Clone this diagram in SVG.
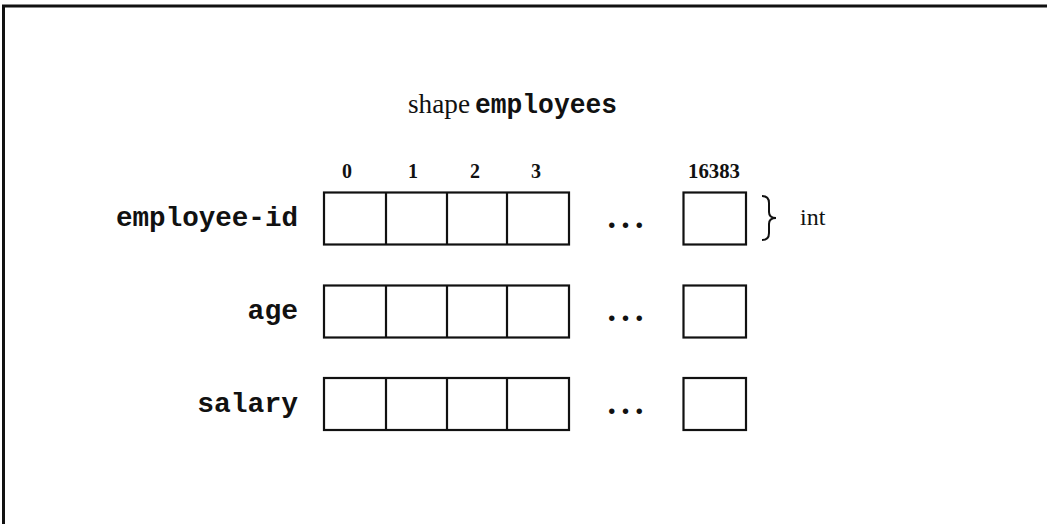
<svg xmlns="http://www.w3.org/2000/svg" width="1047" height="524" viewBox="0 0 1047 524">
<style>
.cell{fill:#fff;stroke:#111;stroke-width:2.2}
.div{stroke:#111;stroke-width:2.2}
.mono{font-family:"Liberation Mono","Courier New",monospace;font-weight:bold;fill:#111}
.serif{font-family:"Liberation Serif","Times New Roman",serif;fill:#111}
.idx{font-family:"Liberation Serif","Times New Roman",serif;font-weight:bold;font-size:20px;fill:#111;text-anchor:middle}
.dots{font-family:"Liberation Serif","Times New Roman",serif;font-weight:bold;font-size:34px;fill:#111;letter-spacing:5.2px}
</style>
<rect width="1047" height="524" fill="#fff"/>
<path d="M3.5 524 V6 H1047" fill="none" stroke="#111" stroke-width="3"/>
<g id="title">
<text x="408" y="113" class="serif" font-size="27" textLength="62" lengthAdjust="spacingAndGlyphs">shape</text>
<text x="475" y="113" class="mono" font-size="27" textLength="142" lengthAdjust="spacingAndGlyphs">employees</text>
</g>
<g id="indices">
<text x="347" y="178" class="idx">0</text>
<text x="413" y="178" class="idx">1</text>
<text x="475" y="178" class="idx">2</text>
<text x="536" y="178" class="idx">3</text>
<text x="714" y="178" class="idx" textLength="52" lengthAdjust="spacingAndGlyphs">16383</text>
</g>
<g id="row-employee-id">
<text x="298" y="226" class="mono" font-size="27" text-anchor="end" textLength="182" lengthAdjust="spacingAndGlyphs">employee-id</text>
<rect x="324" y="192.5" width="245" height="52" class="cell"/>
<line x1="386" y1="192.5" x2="386" y2="244.5" class="div"/>
<line x1="447" y1="192.5" x2="447" y2="244.5" class="div"/>
<line x1="507" y1="192.5" x2="507" y2="244.5" class="div"/>
<text x="607.5" y="228" class="dots">...</text>
<rect x="683.5" y="192.5" width="62.5" height="52" class="cell"/>
</g>
<g id="row-age">
<text x="298" y="319" class="mono" font-size="28" text-anchor="end">age</text>
<rect x="324" y="285.5" width="245" height="52" class="cell"/>
<line x1="386" y1="285.5" x2="386" y2="337.5" class="div"/>
<line x1="447" y1="285.5" x2="447" y2="337.5" class="div"/>
<line x1="507" y1="285.5" x2="507" y2="337.5" class="div"/>
<text x="607.5" y="321" class="dots">...</text>
<rect x="683.5" y="285.5" width="62.5" height="52" class="cell"/>
</g>
<g id="row-salary">
<text x="298" y="411.5" class="mono" font-size="28" text-anchor="end">salary</text>
<rect x="324" y="378" width="245" height="52" class="cell"/>
<line x1="386" y1="378" x2="386" y2="430" class="div"/>
<line x1="447" y1="378" x2="447" y2="430" class="div"/>
<line x1="507" y1="378" x2="507" y2="430" class="div"/>
<text x="607.5" y="414" class="dots">...</text>
<rect x="683.5" y="378" width="62.5" height="52" class="cell"/>
</g>
<g id="type-int">
<path d="M762 196 Q769 196 769 203 V212 Q769 218 776 218 Q769 218 769 224 V233 Q769 240 762 240" fill="none" stroke="#111" stroke-width="2"/>
<text x="800" y="225" class="serif" font-size="24">int</text>
</g>
</svg>
